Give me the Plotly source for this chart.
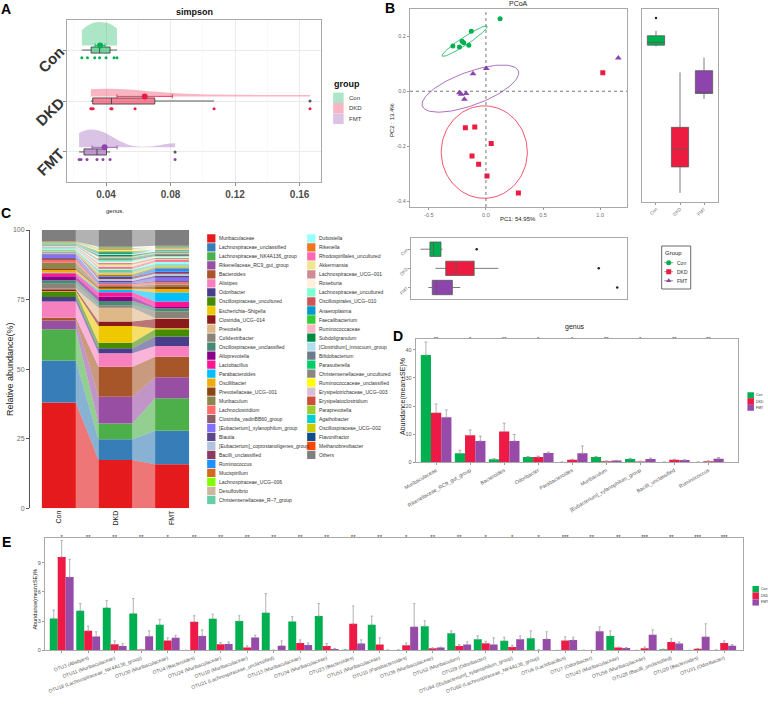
import numpy as np
import plotly.graph_objects as go

W, H = 768, 707
FONT = "Liberation Sans, Arial, Helvetica, sans-serif"

# ======================= DATA =======================
groups = ["Con", "DKD", "FMT"]

# Panel A: Simpson index per sample
simpson_con = [0.0250, 0.0285, 0.0330, 0.0360, 0.0400, 0.0450, 0.0468]
simpson_dkd = [0.0306, 0.0310, 0.0320, 0.0430, 0.0437, 0.0580, 0.1070, 0.1665]
simpson_fmt = [0.0233, 0.0245, 0.0282, 0.0344, 0.0381, 0.0425, 0.0828]
simpson_ticks = [0.04, 0.08, 0.12, 0.16]

# Panel B: PCoA coordinates
pc1_con = [0.124, -0.128, -0.290, -0.232, -0.209, -0.194, -0.150]
pc2_con = [0.264, 0.218, 0.165, 0.161, 0.182, 0.176, 0.167]
pc1_dkd = [1.023, -0.180, -0.098, 0.046, -0.122, -0.064, 0.009, 0.284]
pc2_dkd = [0.067, -0.133, -0.130, -0.190, -0.235, -0.265, -0.308, -0.370]
pc1_fmt = [1.159, 0.003, -0.113, -0.232, -0.217, -0.174, -0.189]
pc2_fmt = [0.121, 0.083, 0.064, -0.005, -0.011, -0.008, -0.029]
pc1_ticks = [-0.5, 0.0, 0.5, 1.0]
pc2_ticks = [-0.4, -0.2, 0.0, 0.2]
pc1_title = "PC1: 54.95%"
pc2_title = "PC2 : 13.4%"
# confidence ellipses (center, first semi-axis vector, second semi-axis vector)
ell_cx = [-0.187, -0.0145, -0.136]
ell_cy = [0.182, -0.221, 0.0097]
ell_ax = [0.196, 0.377, 0.420]
ell_ay = [0.054, 0.000, 0.064]
ell_bx = [0.019, 0.000, 0.050]
ell_by = [-0.012, 0.168, -0.057]

# Panel C: relative abundance (%) of genera
genus_names = [
    "Muribaculaceae", "Lachnospiraceae_unclassified", "Lachnospiraceae_NK4A136_group",
    "Rikenellaceae_RC9_gut_group", "Bacteroides", "Alistipes", "Odoribacter",
    "Oscillospiraceae_uncultured", "Escherichia–Shigella", "Clostridia_UCG–014",
    "Prevotella", "Colidextribacter", "Oscillospiraceae_unclassified", "Alloprevotella",
    "Lactobacillus", "Parabacteroides", "Oscillibacter", "Prevotellaceae_UCG–001",
    "Muribaculum", "Lachnoclostridium", "Clostridia_vadinBB60_group",
    "[Eubacterium]_xylanophilum_group", "Blautia", "[Eubacterium]_coprostanoligenes_group",
    "Bacilli_unclassified", "Ruminococcus", "Mucispirillum", "Lachnospiraceae_UCG–006",
    "Desulfovibrio", "Christensenellaceae_R–7_group",
    "Dubosiella", "Rikenella", "Rhodospirillales_uncultured", "Akkermansia",
    "Lachnospiraceae_UCG–001", "Roseburia", "Lachnospiraceae_uncultured",
    "Oscillospirales_UCG–010", "Anaeroplasma", "Faecalibacterium", "Ruminococcaceae",
    "Subdoligranulum", "[Clostridium]_innocuum_group", "Bifidobacterium", "Parasutterella",
    "Christensenellaceae_uncultured", "Ruminococcaceae_unclassified",
    "Erysipelotrichaceae_UCG–003", "Erysipelatoclostridium", "Paraprevotella",
    "Agathobacter", "Oscillospiraceae_UCG–002", "Flavonifractor", "Methanobrevibacter",
    "Others",
]
genus_colors = [
    "#E41A1C", "#377EB8", "#4DAF4A", "#984EA3", "#A65628", "#F781BF", "#483D8B",
    "#458B00", "#EEC900", "#8B1A1A", "#DEB887", "#8B8378", "#458B74", "#8B008B",
    "#FF1493", "#00BFFF", "#EEAD0E", "#8B4513", "#8B864E", "#FF6A6A", "#8B5F65",
    "#8470FF", "#5D478B", "#B0C4DE", "#8B3A62", "#1E90FF", "#D2691E", "#7FFF00",
    "#CDB79E", "#66CDAA",
    "#97FFFF", "#EE7621", "#FF69B4", "#F0E68C", "#CD8C95", "#FFEFDB", "#7FFFD4",
    "#CD5555", "#009ACD", "#32CD32", "#FFB6C1", "#008B45", "#B2DFEE", "#6C7B8B",
    "#00CD66", "#8B8682", "#FFFF00", "#D8BFD8", "#CD4F39", "#9ACD32", "#00CED1",
    "#CDCD00", "#104E8B", "#FF4500", "#7F7F7F",
]
abund_con = [38.0, 15.1, 11.2, 3.2, 1.0, 5.8, 1.6, 1.9, 0.2, 0.7, 0.2, 1.8, 1.2, 1.5,
             1.1, 0.1, 1.0, 0.7, 1.9, 1.0, 0.7, 1.1, 0.3, 0.5, 0.05, 0.05, 0.2, 0.2,
             0.2, 0.3, 0.6, 0.1, 0.2, 0.1, 0.2, 0.1, 0.2, 0.1, 0.1, 0.1, 0.1, 0.1,
             0.1, 0.1, 0.1, 0.1, 0.1, 0.1, 0.1, 0.1, 0.1, 0.1, 0.1, 0.1, 4.0]
abund_dkd = [17.4, 7.4, 5.7, 9.6, 10.8, 4.8, 1.8, 2.0, 6.0, 1.6, 5.0, 0.9, 1.5, 1.5,
             1.6, 0.8, 0.5, 0.6, 0.4, 0.6, 0.4, 0.3, 0.5, 0.7, 0.8, 0.3, 0.5, 0.4,
             0.5, 0.8, 0.3, 0.3, 0.5, 0.8, 0.5, 0.4, 0.6, 0.4, 0.3, 0.3, 0.4, 0.5,
             0.4, 0.3, 0.4, 0.3, 0.3, 0.3, 0.2, 0.3, 0.1, 0.2, 0.1, 0.1, 6.0]
abund_fmt = [15.8, 12.1, 11.6, 7.6, 7.4, 3.8, 3.4, 2.6, 0.4, 3.3, 0.3, 2.4, 1.2, 0.4,
             2.0, 3.2, 1.3, 1.0, 0.6, 0.7, 0.6, 1.1, 0.8, 0.7, 0.7, 1.2, 0.3, 0.3,
             0.4, 0.5, 0.8, 0.3, 0.4, 0.3, 0.5, 0.3, 0.4, 0.3, 0.3, 0.3, 0.3, 0.3,
             0.2, 0.2, 0.2, 0.2, 0.2, 0.2, 0.2, 0.1, 0.2, 0.2, 0.1, 0.1, 5.7]
c_ticks = [0, 25, 50, 75, 100]

# Panel D: genus level mean and SE (%)
d_genus = ["Muribaculaceae", "Rikenellaceae_RC9_gut_group", "Bacteroides", "Odoribacter",
           "Parabacteroides", "Muribaculum", "[Eubacterium]_xylanophilum_group",
           "Bacilli_unclassified", "Ruminococcus"]
d_con = [38.1, 3.2, 1.1, 1.9, 0.05, 1.9, 1.2, 0.05, 0.05]
d_con_se = [4.6, 1.1, 0.2, 0.2, 0.02, 0.2, 0.2, 0.02, 0.02]
d_dkd = [17.6, 9.6, 10.9, 1.9, 0.9, 0.4, 0.3, 0.9, 0.4]
d_dkd_se = [3.1, 1.9, 3.0, 0.3, 0.2, 0.1, 0.1, 0.2, 0.1]
d_fmt = [16.0, 7.6, 7.6, 3.3, 3.2, 0.6, 1.2, 0.8, 1.3]
d_fmt_se = [2.6, 1.7, 2.3, 0.3, 2.6, 0.1, 0.3, 0.1, 0.4]
d_sig = ["**", "*", "**", "*", "*", "**", "*", "**", "**"]
d_ticks = [0, 10, 20, 30, 40]

# Panel E: OTU level mean and SE (%)
e_otu = [
    "OTU2 (Rikenellaceae_RC9_gut_group)", "OTU3 (Alistipes)", "OTU11 (Muribaculaceae)",
    "OTU18 (Lachnospiraceae_NK4A136_group)", "OTU30 (Muribaculaceae)", "OTU4 (Bacteroides)",
    "OTU24 (Muribaculaceae)", "OTU10 (Muribaculaceae)", "OTU21 (Lachnospiraceae_unclassified)",
    "OTU13 (Muribaculaceae)", "OTU34 (Muribaculaceae)", "OTU23 (Bacteroides)",
    "OTU51 (Muribaculaceae)", "OTU15 (Parabacteroides)", "OTU36 (Muribaculaceae)",
    "OTU52 (Muribaculum)", "OTU29 (Odoribacter)", "OTU84 ([Eubacterium]_xylanophilum_group)",
    "OTU60 (Lachnospiraceae_NK4A136_group)", "OTU6 (Lactobacillus)", "OTU7 (Odoribacter)",
    "OTU43 (Muribaculaceae)", "OTU56 (Muribaculaceae)", "OTU28 (Bacilli_unclassified)",
    "OTU20 (Bacteroides)", "OTU31 (Odoribacter)",
]
e_con = [3.28, 4.07, 4.38, 3.79, 2.62, 0.0, 3.24, 3.0, 3.86, 2.97, 3.52, 0.05, 2.62,
         0.03, 2.48, 1.76, 1.14, 0.97, 1.24, 0.0, 0.0, 1.48, 0.0, 0.1, 0.0, 0.03]
e_con_se = [0.86, 0.73, 0.72, 1.52, 0.55, 0.0, 0.48, 0.55, 1.97, 0.48, 1.28, 0.02, 0.9,
            0.02, 0.55, 0.24, 0.34, 0.37, 0.76, 0.0, 0.0, 0.52, 0.0, 0.02, 0.0, 0.01]
e_dkd = [9.59, 2.0, 0.62, 0.07, 1.0, 2.93, 0.62, 0.28, 0.02, 0.76, 0.45, 2.72, 0.59,
         0.52, 0.2, 0.45, 0.72, 0.34, 0.03, 1.0, 0.0, 0.28, 0.2, 0.86, 0.17, 0.76]
e_dkd_se = [1.7, 0.48, 0.35, 0.03, 0.28, 0.62, 0.17, 0.17, 0.01, 0.31, 0.24, 1.83, 0.69,
            0.24, 0.05, 0.14, 0.21, 0.18, 0.01, 0.38, 0.0, 0.05, 0.14, 0.34, 0.03, 0.21]
e_fmt = [7.52, 1.41, 0.45, 1.45, 1.28, 1.48, 0.66, 1.31, 0.48, 0.55, 0.14, 0.69, 0.03,
         2.41, 0.28, 0.59, 0.59, 1.14, 1.17, 1.07, 1.97, 0.24, 1.59, 0.69, 1.38, 0.48]
e_fmt_se = [1.82, 0.49, 0.24, 0.55, 0.27, 0.62, 0.2, 0.24, 0.49, 0.21, 0.06, 0.38, 0.01,
            2.38, 0.05, 0.27, 0.69, 0.34, 0.73, 0.27, 0.44, 0.04, 0.51, 0.17, 1.34, 0.11]
e_sig = ["*", "**", "**", "**", "*", "**", "**", "**", "**", "**", "**", "**", "**",
         "*", "**", "**", "*", "*", "*", "***", "**", "**", "***", "**", "***", "***"]
e_ticks = [0, 3, 6, 9]

# ======================= STYLE =======================
col = {"Con": "#00B050", "DKD": "#EC1C40", "FMT": "#8E44AD"}
bar_col = {"Con": "#00B050", "DKD": "#EE1A45", "FMT": "#964BA8"}
violin_width = {"Con": 0.92, "DKD": 0.30, "FMT": 0.70}
BORDER = "#A9A9A9"
TICKC = "#4D4D4D"
ERRC = "#A0A0A0"


def rgba(hexc, a):
    h = hexc.lstrip("#")
    r, g, b = int(h[0:2], 16), int(h[2:4], 16), int(h[4:6], 16)
    return f"rgba({r},{g},{b},{a})"


def dom_x(a, b):
    return [a / W, b / W]


def dom_y(top, bottom):
    return [1 - bottom / H, 1 - top / H]


def box_stats(vals):
    """Tukey box statistics (quantile type 7, 1.5 IQR whiskers)."""
    v = np.sort(np.asarray(vals, dtype=float))
    q1, med, q3 = np.percentile(v, [25, 50, 75])
    iqr = q3 - q1
    inside = v[(v >= q1 - 1.5 * iqr) & (v <= q3 + 1.5 * iqr)]
    out = v[(v < q1 - 1.5 * iqr) | (v > q3 + 1.5 * iqr)]
    return dict(q1=q1, med=med, q3=q3, lo=inside.min(), hi=inside.max(), out=list(out))


fig = go.Figure()
layout = {}
annotations = []
shapes = []


def ax_names(n):
    return ("x", "y") if n == 1 else (f"x{n}", f"y{n}")


def base_axis(domain, rng, **kw):
    d = dict(domain=domain, range=rng, showgrid=False, zeroline=False, showline=False,
             ticks="", showticklabels=False, automargin=False, fixedrange=True)
    d.update(kw)
    return d


def set_axes(n, xd, yd):
    xa, ya = ax_names(n)
    xd["anchor"] = ya
    yd["anchor"] = xa
    layout["xaxis" if n == 1 else f"xaxis{n}"] = xd
    layout["yaxis" if n == 1 else f"yaxis{n}"] = yd


def text_px(s, x, y, size, color="#222222", bold=False, xanchor="center",
            yanchor="middle", angle=0):
    annotations.append(dict(
        text=s, x=x / W, y=1 - y / H, xref="paper", yref="paper", showarrow=False,
        font=dict(family=FONT, size=size, color=color, weight="bold" if bold else "normal"),
        xanchor=xanchor, yanchor=yanchor, textangle=angle, borderpad=0))


def text_ax(n, s, x, y, size, color="#333333", xanchor="left"):
    xa, ya = ax_names(n)
    annotations.append(dict(
        text=s, x=x, y=y, xref=xa, yref=ya, showarrow=False, borderpad=0,
        font=dict(family=FONT, size=size, color=color), xanchor=xanchor, yanchor="middle"))


def add_box(n, vals, pos, horizontal, width, fill, line_col, out_col, out_size):
    st = box_stats(vals)
    xa, ya = ax_names(n)
    kw = dict(q1=[st["q1"]], median=[st["med"]], q3=[st["q3"]],
              lowerfence=[st["lo"]], upperfence=[st["hi"]], width=width,
              fillcolor=fill, line=dict(color=line_col, width=0.8), whiskerwidth=0,
              boxpoints=False, hoverinfo="skip", showlegend=False, xaxis=xa, yaxis=ya)
    if horizontal:
        fig.add_trace(go.Box(y=[pos], orientation="h", **kw))
        ox, oy = st["out"], [pos] * len(st["out"])
    else:
        fig.add_trace(go.Box(x=[pos], orientation="v", **kw))
        ox, oy = [pos] * len(st["out"]), st["out"]
    if st["out"]:
        fig.add_trace(go.Scatter(x=ox, y=oy, mode="markers",
                                 marker=dict(color=out_col, size=out_size),
                                 hoverinfo="skip", showlegend=False, xaxis=xa, yaxis=ya))


# ======================= PANEL A =======================
a_vals = [simpson_con, simpson_dkd, simpson_fmt]
a_pos = [3, 2, 1]
for g, vals, pos in zip(groups, a_vals, a_pos):
    c = col[g]
    fig.add_trace(go.Violin(
        x=vals, y0=pos + 0.09, orientation="h", side="positive", width=violin_width[g],
        scalegroup="A" + g, scalemode="width", spanmode="hard", points=False,
        fillcolor=rgba(c, 0.32), line=dict(width=0, color=rgba(c, 0.0)),
        box=dict(visible=False), meanline=dict(visible=False), name=g,
        hoverinfo="skip", showlegend=False, xaxis="x", yaxis="y"))
    add_box(1, vals, pos, True, 0.12, rgba(c, 0.55), "#333333", "#555555", 3)
    arr = np.array(vals)
    m = arr.mean()
    se = arr.std(ddof=1) / np.sqrt(len(arr))
    fig.add_trace(go.Scatter(
        x=[m], y=[pos + 0.09], mode="markers",
        marker=dict(color=c, size=6),
        error_x=dict(type="data", array=[se], color=c, thickness=0.8, width=2),
        hoverinfo="skip", showlegend=False, xaxis="x", yaxis="y"))
    fig.add_trace(go.Scatter(
        x=vals, y=[pos - 0.15] * len(vals), mode="markers",
        marker=dict(color=c, size=3), hoverinfo="skip", showlegend=False,
        xaxis="x", yaxis="y"))

set_axes(1,
         base_axis(dom_x(67, 321), [0.0158, 0.1733], showgrid=True, gridcolor="#EBEBEB",
                   gridwidth=1, tickvals=simpson_ticks,
                   ticktext=[f"{v:.2f}" for v in simpson_ticks], showticklabels=True,
                   tickfont=dict(family=FONT, size=10, color=TICKC, weight="bold"),
                   ticks="outside", ticklen=3, tickcolor="#8C8C8C",
                   minor=dict(dtick=0.02, tick0=0, showgrid=True, gridcolor="#F5F5F5",
                              gridwidth=0.6, ticks=""),
                   showline=True, mirror=True, linecolor=BORDER, linewidth=1),
         base_axis(dom_y(20, 182), [0.41, 3.59], showgrid=True, gridcolor="#EBEBEB",
                   tickvals=a_pos, ticktext=groups, showticklabels=True, tickangle=-45,
                   tickfont=dict(family=FONT, size=15, color="#333333", weight="bold"),
                   ticks="outside", ticklen=3, tickcolor="#8C8C8C",
                   showline=True, mirror=True, linecolor=BORDER, linewidth=1))
text_px("simpson", 194, 12, 9, "#111111", bold=True)

# legend A
text_px("group", 333, 84, 9, "#111111", bold=True, xanchor="left")
fig.add_trace(go.Scatter(
    x=[5.4] * 3, y=[0, 1, 2], mode="markers",
    marker=dict(symbol="square", size=10.5, color=[rgba(col[g], 0.32) for g in groups],
                line=dict(width=0)),
    hoverinfo="skip", showlegend=False, xaxis="x9", yaxis="y9"))
for i, g in enumerate(groups):
    text_ax(9, g, 14.5, i, 6, "#333333")
set_axes(9, base_axis(dom_x(333, 380), [0, 47]),
         base_axis(dom_y(92.3, 124.3), [2.5, -0.5]))

# ======================= PANEL B =======================
pc1 = [pc1_con, pc1_dkd, pc1_fmt]
pc2 = [pc2_con, pc2_dkd, pc2_fmt]
symbols = ["circle", "square", "triangle-up"]
sizes = [5, 5, 6]
t = np.linspace(0, 2 * np.pi, 120)
for i, g in enumerate(groups):
    ex = ell_cx[i] + ell_ax[i] * np.cos(t) + ell_bx[i] * np.sin(t)
    ey = ell_cy[i] + ell_ay[i] * np.cos(t) + ell_by[i] * np.sin(t)
    fig.add_trace(go.Scatter(
        x=ex, y=ey, mode="lines", line=dict(color=rgba(col[g], 0.75), width=1),
        hoverinfo="skip", showlegend=False, xaxis="x2", yaxis="y2"))
for i, g in enumerate(groups):
    fig.add_trace(go.Scatter(
        x=pc1[i], y=pc2[i], mode="markers",
        marker=dict(symbol=symbols[i], size=sizes[i], color=col[g], line=dict(width=0)),
        hoverinfo="skip", showlegend=False, xaxis="x2", yaxis="y2"))
shapes.append(dict(type="line", xref="x2", yref="y2 domain", x0=0, x1=0, y0=0, y1=1,
                   line=dict(color="#555555", width=0.8, dash="dot")))
shapes.append(dict(type="line", xref="x2 domain", yref="y2", x0=0, x1=1, y0=0, y1=0,
                   line=dict(color="#555555", width=0.8, dash="dot")))
bfont = dict(family=FONT, size=5.5, color="#6E6E6E")
set_axes(2,
         base_axis(dom_x(410, 627), [-0.665, 1.235], tickvals=pc1_ticks,
                   ticktext=[f"{v:.1f}" for v in pc1_ticks], showticklabels=True,
                   tickfont=bfont, ticks="outside", ticklen=2, tickcolor="#999999",
                   showline=True, mirror=True, linecolor=BORDER, linewidth=1),
         base_axis(dom_y(9.3, 207), [-0.4207, 0.298], tickvals=pc2_ticks,
                   ticktext=[f"{v:.1f}" for v in pc2_ticks], showticklabels=True,
                   tickfont=bfont, ticks="outside", ticklen=2, tickcolor="#999999",
                   showline=True, mirror=True, linecolor=BORDER, linewidth=1))
text_px("PCoA", 518, 3, 7, "#222222")
text_px(pc1_title, 518, 219, 6, "#222222")
text_px(pc2_title, 392, 120, 6, "#222222", angle=-90)

# right boxplot (PC2)
for i, g in enumerate(groups):
    add_box(3, pc2[i], i, False, 0.72, col[g], "#5A5A5A", "#222222", 2.5)
set_axes(3,
         base_axis(dom_x(642, 718), [-0.583, 2.583], tickvals=[0, 1, 2], ticktext=groups,
                   showticklabels=True, tickangle=-45,
                   tickfont=dict(family=FONT, size=4.5, color="#6E6E6E"),
                   ticks="outside", ticklen=2, tickcolor="#999999",
                   showline=True, mirror=True, linecolor=BORDER, linewidth=1),
         base_axis(dom_y(9.3, 201.7), [-0.402, 0.296],
                   showline=True, mirror=True, linecolor=BORDER, linewidth=1))

# bottom boxplot (PC1)
b_pos = [2, 1, 0]
for i, g in enumerate(groups):
    add_box(4, pc1[i], b_pos[i], True, 0.75, col[g], "#5A5A5A", "#222222", 2.5)
set_axes(4,
         base_axis(dom_x(410.7, 627), [-0.362, 1.231],
                   showline=True, mirror=True, linecolor=BORDER, linewidth=1),
         base_axis(dom_y(237.7, 299), [-0.6, 2.6], tickvals=b_pos, ticktext=groups,
                   showticklabels=True, tickangle=-45,
                   tickfont=dict(family=FONT, size=4.5, color="#6E6E6E"),
                   ticks="outside", ticklen=2, tickcolor="#999999",
                   showline=True, mirror=True, linecolor=BORDER, linewidth=1))

# legend B
shapes.append(dict(type="rect", xref="paper", yref="paper",
                   x0=661.7 / W, x1=690.7 / W, y0=1 - 289 / H, y1=1 - 246 / H,
                   line=dict(color="#444444", width=0.8), fillcolor="rgba(0,0,0,0)"))
text_px("Group", 664, 252.7, 6, "#222222", xanchor="left")
lx, ly = [], []
for i in range(3):
    lx += [2.5, 11.5, None]
    ly += [i, i, None]
fig.add_trace(go.Scatter(x=lx, y=ly, mode="lines", line=dict(color="#888888", width=0.8),
                         hoverinfo="skip", showlegend=False, xaxis="x10", yaxis="y10"))
fig.add_trace(go.Scatter(
    x=[7] * 3, y=[0, 1, 2], mode="markers",
    marker=dict(symbol=symbols, size=5, color=[col[g] for g in groups]),
    hoverinfo="skip", showlegend=False, xaxis="x10", yaxis="y10"))
for i, g in enumerate(groups):
    text_ax(10, g, 14, i, 5, "#333333")
set_axes(10, base_axis(dom_x(661.7, 690.7), [0, 29]),
         base_axis(dom_y(258.2, 285.2), [2.5, -0.5]))

# ======================= PANEL C =======================
abund = np.array([abund_con, abund_dkd, abund_fmt])
tops = np.cumsum(abund, axis=1)
bots = tops - abund
bar_w = 0.6
for i, (name, colr) in enumerate(zip(genus_names, genus_colors)):
    xs, ys = [], []
    for k in range(2):
        x0, x1 = k + 1 + bar_w / 2, k + 2 - bar_w / 2
        xs += [x0, x1, x1, x0, x0, None]
        ys += [bots[k, i], bots[k + 1, i], tops[k + 1, i], tops[k, i], bots[k, i], None]
    fig.add_trace(go.Scatter(
        x=xs, y=ys, mode="lines", fill="toself", fillcolor=rgba(colr, 0.6),
        line=dict(width=0), hoverinfo="skip", showlegend=False, xaxis="x5", yaxis="y5"))
    fig.add_trace(go.Bar(
        x=[1, 2, 3], y=abund[:, i], base=bots[:, i], width=bar_w,
        marker=dict(color=colr, line=dict(width=0)), hoverinfo="skip",
        showlegend=False, xaxis="x5", yaxis="y5"))
set_axes(5,
         base_axis(dom_x(30, 195), [0.49, 3.405], tickvals=[1, 2, 3], ticktext=groups,
                   showticklabels=True, tickangle=-90,
                   tickfont=dict(family=FONT, size=7, color="#222222")),
         base_axis(dom_y(230, 508.3), [0, 100], tickvals=c_ticks,
                   ticktext=[str(v) for v in c_ticks], showticklabels=True,
                   tickfont=dict(family=FONT, size=7, color="#6E6E6E"),
                   ticks="outside", ticklen=3, tickcolor="#555555",
                   showline=True, linecolor="#555555", linewidth=1))
text_px("genus.", 115, 211, 6, "#222222")
text_px("Relative abundance(%)", 10, 369, 9, "#222222", angle=-90)

# legend C (two columns)
n_col1 = 30
leg_x, leg_y = [], []
for i in range(len(genus_names)):
    cidx, r = (0, i) if i < n_col1 else (1, i - n_col1)
    leg_x.append(11.3 + 100 * cidx)
    leg_y.append(r)
    text_ax(6, genus_names[i], leg_x[-1] + 6.5, r, 5, "#333333")
fig.add_trace(go.Scatter(
    x=leg_x, y=leg_y, mode="markers",
    marker=dict(symbol="square", size=8.3, color=genus_colors, line=dict(width=0)),
    hoverinfo="skip", showlegend=False, xaxis="x6", yaxis="y6"))
set_axes(6, base_axis(dom_x(200, 385), [0, 185]),
         base_axis(dom_y(233.8, 504.5), [29.5, -0.5]))

# ======================= PANEL D =======================
d_means = [d_con, d_dkd, d_fmt]
d_ses = [d_con_se, d_dkd_se, d_fmt_se]
d_x = list(range(len(d_genus)))
for gi, g in enumerate(groups):
    fig.add_trace(go.Bar(
        x=d_x, y=d_means[gi], width=0.3, offset=-0.45 + 0.3 * gi,
        marker=dict(color=bar_col[g], line=dict(width=0)),
        error_y=dict(type="data", array=d_ses[gi], arrayminus=[0] * len(d_x),
                     symmetric=False, color=ERRC, thickness=0.8, width=1.5),
        hoverinfo="skip", showlegend=False, xaxis="x7", yaxis="y7"))
d_top = 43.7
fig.add_trace(go.Scatter(
    x=d_x, y=[d_top] * len(d_x), mode="text", text=d_sig, textposition="middle center",
    textfont=dict(family=FONT, size=6, color="#333333"), cliponaxis=False,
    hoverinfo="skip", showlegend=False, xaxis="x7", yaxis="y7"))
set_axes(7,
         base_axis(dom_x(415.7, 738.3), [-0.6, 8.88], tickvals=d_x, ticktext=d_genus,
                   showticklabels=True, tickangle=-30,
                   tickfont=dict(family=FONT, size=5.2, color="#5A5A5A"),
                   ticks="outside", ticklen=2, tickcolor="#999999",
                   showline=True, mirror=True, linecolor=BORDER, linewidth=1),
         base_axis(dom_y(339.3, 462.3), [0, d_top], tickvals=d_ticks,
                   ticktext=[str(v) for v in d_ticks], showticklabels=True,
                   tickfont=dict(family=FONT, size=5.5, color="#5A5A5A"),
                   ticks="outside", ticklen=2, tickcolor="#999999",
                   showline=True, mirror=True, linecolor=BORDER, linewidth=1))
text_px("genus", 575, 327, 7, "#222222")
text_px("Abundance(mean±SE)%", 403, 397, 7, "#222222", angle=-90)

# legend D
fig.add_trace(go.Scatter(
    x=[3.7] * 3, y=[0, 1, 2], mode="markers",
    marker=dict(symbol="square", size=6.5, color=[bar_col[g] for g in groups],
                line=dict(width=0)),
    hoverinfo="skip", showlegend=False, xaxis="x11", yaxis="y11"))
for i, g in enumerate(groups):
    text_ax(11, g, 8, i, 3.5, "#333333")
set_axes(11, base_axis(dom_x(747, 768), [0, 21]),
         base_axis(dom_y(392.2, 410.8), [2.5, -0.5]))

# ======================= PANEL E =======================
e_means = [e_con, e_dkd, e_fmt]
e_ses = [e_con_se, e_dkd_se, e_fmt_se]
e_x = list(range(len(e_otu)))
for gi, g in enumerate(groups):
    fig.add_trace(go.Bar(
        x=e_x, y=e_means[gi], width=0.3, offset=-0.45 + 0.3 * gi,
        marker=dict(color=bar_col[g], line=dict(width=0)),
        error_y=dict(type="data", array=e_ses[gi], arrayminus=[0] * len(e_x),
                     symmetric=False, color=ERRC, thickness=0.8, width=1.2),
        hoverinfo="skip", showlegend=False, xaxis="x8", yaxis="y8"))
e_top = 11.57
fig.add_trace(go.Scatter(
    x=e_x, y=[e_top] * len(e_x), mode="text", text=e_sig, textposition="middle center",
    textfont=dict(family=FONT, size=6, color="#333333"), cliponaxis=False,
    hoverinfo="skip", showlegend=False, xaxis="x8", yaxis="y8"))
set_axes(8,
         base_axis(dom_x(45, 743.3), [-0.63, 25.72], tickvals=e_x, ticktext=e_otu,
                   showticklabels=True, tickangle=-20,
                   tickfont=dict(family=FONT, size=5, color="#5A5A5A"),
                   ticks="outside", ticklen=2, tickcolor="#999999",
                   showline=True, mirror=True, linecolor=BORDER, linewidth=1),
         base_axis(dom_y(537.7, 650.3), [0, e_top], tickvals=e_ticks,
                   ticktext=[str(v) for v in e_ticks], showticklabels=True,
                   tickfont=dict(family=FONT, size=5.5, color="#5A5A5A"),
                   ticks="outside", ticklen=2, tickcolor="#999999",
                   showline=True, mirror=True, linecolor=BORDER, linewidth=1))
text_px("Abundance(mean±SE)%", 34.5, 599, 5.5, "#222222", angle=-90)

# legend E
fig.add_trace(go.Scatter(
    x=[3.7] * 3, y=[0, 1, 2], mode="markers",
    marker=dict(symbol="square", size=6.5, color=[bar_col[g] for g in groups],
                line=dict(width=0)),
    hoverinfo="skip", showlegend=False, xaxis="x12", yaxis="y12"))
for i, g in enumerate(groups):
    text_ax(12, g, 8, i, 3.5, "#333333")
set_axes(12, base_axis(dom_x(752, 768), [0, 16]),
         base_axis(dom_y(586, 605.7), [2.5, -0.5]))

# ======================= PANEL LETTERS =======================
for letter, x, y in [("A", 6, 9), ("B", 390, 8), ("C", 6, 213), ("D", 398, 336),
                     ("E", 6, 542)]:
    text_px(letter, x, y, 14, "#000000", bold=True)

fig.update_layout(
    template="none", width=W, height=H, margin=dict(l=0, r=0, t=0, b=0, pad=0),
    paper_bgcolor="white", plot_bgcolor="white", showlegend=False,
    barmode="overlay", boxmode="overlay", violinmode="overlay",
    font=dict(family=FONT), annotations=annotations, shapes=shapes, **layout)

# place the figure at the window origin (remove the default 8px body margin)
fig.write_html("out.html",
               config={"displayModeBar": False, "staticPlot": True},
               post_script="document.body.style.margin='0px';"
                           "document.body.style.overflow='hidden';")
